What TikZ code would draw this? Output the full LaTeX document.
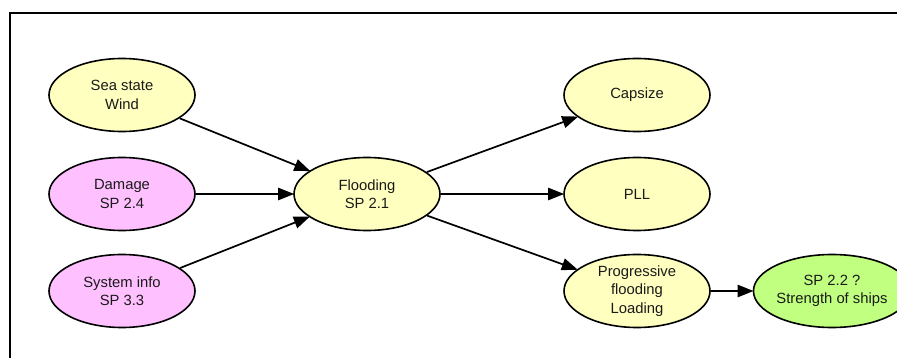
\documentclass[tikz,border=0pt]{standalone}
\usepackage{fontspec}
\setmainfont{Liberation Sans}
\usetikzlibrary{shapes.geometric,arrows.meta}
\definecolor{ylw}{HTML}{FFFFC0}
\definecolor{pnk}{HTML}{FFC0FF}
\definecolor{grn}{HTML}{C0FF80}
\definecolor{txt}{HTML}{1A1A1A}
\tikzset{
  bub/.style={ellipse,draw=black,line width=1.6pt,minimum width=146pt,minimum height=73pt,
    inner sep=0pt,align=center,font=\fontsize{14.8}{18.5}\selectfont,text=txt},
  ybub/.style={bub,fill=ylw},
  pbub/.style={bub,fill=pnk},
  gbub/.style={bub,fill=grn},
  conn/.style={-{Triangle[length=16pt,width=12pt]},line width=1.7pt,shorten >=-1pt},
  hconn/.style={conn,line width=2.3pt}
}
\begin{document}
\begin{tikzpicture}[x=1pt,y=-1pt]
\useasboundingbox (0,0) rectangle (897,358);
\draw[line width=2pt] (10,358) -- (10,13) -- (897,13);
\node[ybub] (sea) at (122,95) {Sea state\\Wind};
\node[pbub] (dam) at (122,194) {Damage\\SP 2.4};
\node[pbub] (sys) at (122,291) {System info\\SP 3.3};
\node[ybub] (fl) at (367,194) {Flooding\\SP 2.1};
\node[ybub] (cap) at (637,95) {Capsize};
\node[ybub] (pll) at (637,194) {PLL};
\node[ybub] (prog) at (637,291) {Progressive\\flooding\\Loading};
\node[gbub] (sp) at (832,291) {SP 2.2 ?\\Strength of ships};
\draw[conn] (sea) -- (fl);
\draw[hconn] (dam) -- (fl);
\draw[conn] (sys) -- (fl);
\draw[conn] (fl) -- (cap);
\draw[hconn] (fl) -- (pll);
\draw[conn] (fl) -- (prog);
\draw[hconn] (prog) -- (sp);
\end{tikzpicture}
\end{document}
